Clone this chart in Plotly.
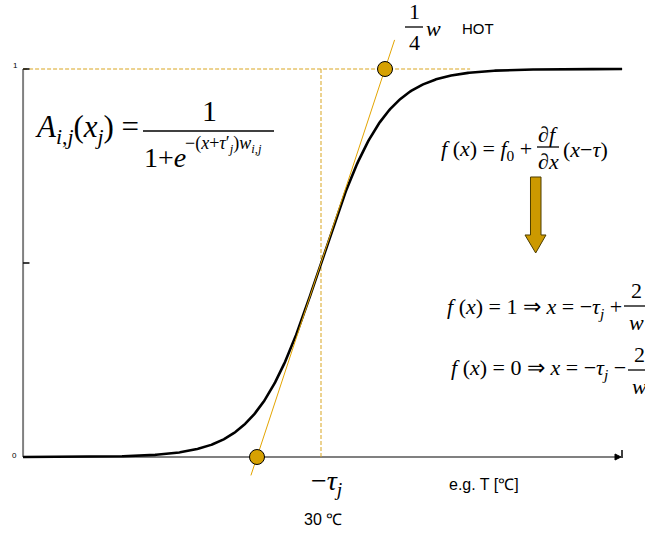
import numpy as np
import plotly.graph_objects as go

W, H = 645, 533

# Logistic activation A(x) = 1 / (1 + exp(-(x + tau) * w))
tau = 0.0            # threshold, curve centred at x = -tau
w = 1.0              # steepness
x_start, x_end = -9.31, 9.41
y_ticks = [0, 0.5, 1]
tick_text = ["0", "", "1"]

GOLD = "#D6A102"
DASH = "#D9A520"
SERIF = "Liberation Serif"
SANS = "Liberation Sans"

x = np.linspace(x_start, x_end, 600)
y = 1.0 / (1.0 + np.exp(-(x + tau) * w))

# tangent at the midpoint: slope w/4, hits 0 and 1 at -tau -/+ 2/w
x_lo, x_hi = -tau - 2.0 / w, -tau + 2.0 / w
tan_x = np.array([x_lo - 0.19, x_hi + 0.30])
tan_y = 0.5 + w / 4.0 * (tan_x + tau)
dash_end = 4.66

fig = go.Figure()

# axes
fig.add_trace(go.Scatter(x=[x_start, x_start], y=[0, 1], mode="lines",
                         line=dict(color="#808080", width=2), hoverinfo="skip"))
fig.add_trace(go.Scatter(x=[x_start, x_end - 0.1], y=[0, 0], mode="lines",
                         line=dict(color="#808080", width=2), hoverinfo="skip"))

# guide lines
fig.add_trace(go.Scatter(x=[x_start, dash_end], y=[1, 1], mode="lines",
                         line=dict(color=DASH, width=1, dash="4px,2px"), hoverinfo="skip"))
fig.add_trace(go.Scatter(x=[-tau, -tau], y=[0, 1], mode="lines",
                         line=dict(color=DASH, width=1, dash="4px,2px"), hoverinfo="skip"))

# sigmoid
fig.add_trace(go.Scatter(x=x, y=y, mode="lines",
                         line=dict(color="black", width=2.6), hoverinfo="skip"))

# tangent
fig.add_trace(go.Scatter(x=tan_x, y=tan_y, mode="lines",
                         line=dict(color="#E3A400", width=1), hoverinfo="skip"))

# tangent intercepts
fig.add_trace(go.Scatter(x=[x_lo, x_hi], y=[0, 1], mode="markers",
                         marker=dict(size=15, color=GOLD, line=dict(color="black", width=1)),
                         hoverinfo="skip"))


def P(px, py):
    return px / W, 1 - py / H


def text(s, px, py, size, anchor="left", family=SERIF):
    xx, yy = P(px, py)
    fig.add_annotation(x=xx, y=yy, xref="paper", yref="paper", text=s,
                       showarrow=False, xanchor=anchor, yanchor="middle",
                       font=dict(family=family, size=size, color="black"))


def hline(x0, x1, py, width=1.3, color="black"):
    a, b = P(x0, py)
    c, _ = P(x1, py)
    fig.add_shape(type="line", xref="paper", yref="paper", x0=a, x1=c, y0=b, y1=b,
                  line=dict(color=color, width=width))


def path(points, fill, line_color, width=1):
    d = "M " + " L ".join(f"{P(px, py)[0]:.5f},{P(px, py)[1]:.5f}" for px, py in points) + " Z"
    fig.add_shape(type="path", xref="paper", yref="paper", path=d,
                  fillcolor=fill, line=dict(color=line_color, width=width))


# tick marks on the value axis
for yt in y_ticks:
    fig.add_shape(type="line", xref="x", yref="y", x0=x_start, x1=x_start + 0.2,
                  y0=yt, y1=yt, line=dict(color="black", width=1.5))
tick_pos = {0: (14, 455), 1: (15, 66)}
for yt, lab in zip(y_ticks, tick_text):
    if lab:
        text(lab, *tick_pos[yt], 8, "center", SANS)

# arrow end of the x axis
path([(615, 454), (621, 457), (615, 460)], "black", "black")
fig.add_shape(type="line", xref="paper", yref="paper",
              x0=622 / W, x1=622 / W, y0=1 - 450 / H, y1=1 - 458 / H,
              line=dict(color="black", width=1.5))

# A_{i,j}(x_j) = 1 / (1 + e^{-(x+tau'_j) w_{i,j}})
text("<i>A</i><sub><i>i</i>,<i>j</i></sub>(<i>x</i><sub><i>j</i></sub>) =", 33, 129, 31)
text("1", 209, 110, 30, "center")
hline(143, 274, 131, 1.5)
text("1+<i>e</i>", 142, 158, 28)
text("−(<i>x</i>+<i>τ</i>′<sub><i>j</i></sub>)<i>w</i><sub><i>i</i>,<i>j</i></sub>", 183, 144, 18)

# f(x) = f0 + df/dx (x - tau)
text("<i>f</i> (<i>x</i>) = <i>f</i><sub>0</sub> +", 534, 150, 22, "right")
text("∂<i>f</i>", 548, 134, 22, "center")
hline(537, 559, 147)
text("∂<i>x</i>", 548, 161, 22, "center")
text("(<i>x</i>−<i>τ</i>)", 561, 150, 22)

# down arrow
path([(530.5, 177), (541, 177), (541, 235), (546, 235), (535.7, 253),
      (525, 235), (530.5, 235)], "#CC9900", "#4d3d00", 1)

# boundary conditions
text("<i>f</i> (<i>x</i>) = 1 ⇒ <i>x</i> = −<i>τ</i><sub><i>j</i></sub> +", 624, 308, 22, "right")
text("2", 636, 290, 22, "center")
hline(624, 648, 306)
text("<i>w</i>", 636, 322, 22, "center")

text("<i>f</i> (<i>x</i>) = 0 ⇒ <i>x</i> = −<i>τ</i><sub><i>j</i></sub> −", 628, 369, 22, "right")
text("2", 639, 354, 22, "center")
hline(628, 652, 370)
text("<i>w</i>", 639, 386, 22, "center")

# slope label
text("1", 414, 12, 22, "center")
hline(405, 423, 27)
text("4", 414, 42, 22, "center")
text("<i>w</i>", 424, 28, 22)
text("HOT", 460, 28, 15, family=SANS)

# x-axis labels
text("−<i>τ</i><sub><i>j</i></sub>", 309, 482, 28)
text("e.g. T [℃]", 447, 484, 16, family=SANS)
text("30 ℃", 302, 519, 16, family=SANS)

fig.update_layout(
    width=W, height=H, autosize=False,
    margin=dict(l=0, r=0, t=0, b=0),
    paper_bgcolor="white", plot_bgcolor="white",
    showlegend=False,
    xaxis=dict(range=[-321 / 32, (W - 321) / 32], visible=False, fixedrange=True),
    yaxis=dict(range=[(457 - H) / 388, 457 / 388], visible=False, fixedrange=True),
)

fig.write_html("out.html")
